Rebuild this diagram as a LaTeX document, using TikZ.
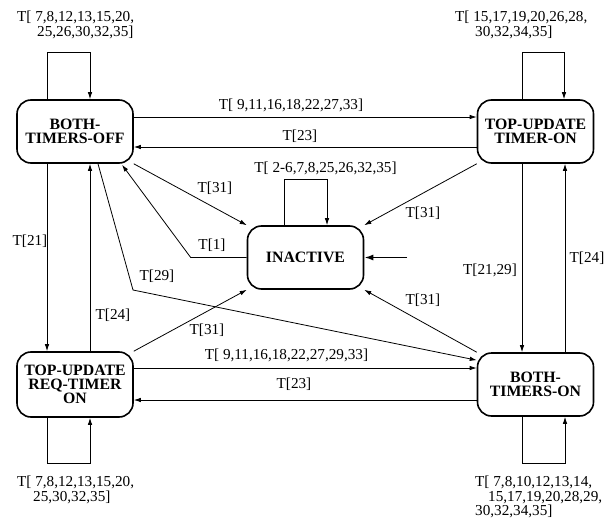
\documentclass[tikz,border=0pt]{standalone}
\usepackage{fontspec}
\setmainfont{Liberation Serif}
\usetikzlibrary{arrows.meta,calc}
\begin{document}
\begin{tikzpicture}[x=1pt,y=-1pt,
  state/.style={draw,line width=1.6pt,rounded corners=14pt,minimum width=116pt,minimum height=63pt,inner sep=0pt,align=center,font=\fontsize{15.8}{14.3}\selectfont\bfseries},
  lbl/.style={font=\fontsize{15.2}{14.3}\selectfont,inner sep=0pt,align=left},
  arr/.style={line width=0.8pt,-{Latex[length=7pt,width=4.5pt]}},
  initarr/.style={line width=1.6pt,-{Latex[length=9pt,width=6pt]}}]
\useasboundingbox (0,0) rectangle (605,519);

\node[state] (BTO) at (75,131.5) {BOTH-\\TIMERS-OFF};
\node[state] (TUTO) at (535.5,131.5) {TOP-UPDATE\\TIMER-ON};
\node[state] (INACT) at (305.5,257.5) {INACTIVE};
\node[state,minimum height=65pt] (TUREQ) at (75,384.5) {TOP-UPDATE\\REQ-TIMER\\ON};
\node[state] (BTON) at (535.5,384.5) {BOTH-\\TIMERS-ON};

% self loops
\draw[arr] ([xshift=-28pt]BTO.north) -- ++(0pt,47pt) -| ([xshift=15pt]BTO.north);
\draw[arr] ([xshift=-13.5pt]TUTO.north) -- ++(0pt,47pt) -| ([xshift=28.5pt]TUTO.north);
\draw[arr] ([xshift=-21.5pt]INACT.north) -- ++(0pt,46pt) -| ([xshift=21.5pt]INACT.north);
\draw[arr] ([xshift=-28pt]TUREQ.south) -- ++(0pt,-46pt) -| ([xshift=15pt]TUREQ.south);
\draw[arr] ([xshift=-13.5pt]BTON.south) -- ++(0pt,-47pt) -| ([xshift=29.5pt]BTON.south);

% horizontal connectors
\draw[arr] ([yshift=14.5pt]BTO.east) -- ([yshift=14.5pt]TUTO.west);
\draw[arr] ([yshift=-15.5pt]TUTO.west) -- ([yshift=-15.5pt]BTO.east);
\draw[arr] ([yshift=16.5pt]TUREQ.east) -- ([yshift=16.5pt]BTON.west);
\draw[arr] ([yshift=-15.5pt]BTON.west) -- ([yshift=-15.5pt]TUREQ.east);

% vertical connectors
\draw[arr] ([xshift=-28pt]BTO.south) -- ([xshift=-28pt]TUREQ.north);
\draw[arr] ([xshift=15pt]TUREQ.north) -- ([xshift=15pt]BTO.south);
\draw[arr] ([xshift=-13.5pt]TUTO.south) -- ([xshift=-13.5pt]BTON.north);
\draw[arr] ([xshift=29.5pt]BTON.north) -- ([xshift=29.5pt]TUTO.south);

% diagonals
\draw[arr] (BTO.south east) -- (INACT.north west);
\draw[arr] (INACT.west) -- ++(-56pt,0pt) -- ([xshift=47pt,yshift=-1pt]BTO.south);
\coordinate (b29) at (133,290);
\draw[arr] ([xshift=23pt]BTO.south) -- (b29) -- ([yshift=-8pt]BTON.north west);
\draw[arr] (TUTO.south west) -- (INACT.north east);
\draw[arr] (BTON.north west) -- (INACT.south east);
\draw[arr] (TUREQ.north east) -- (INACT.south west);

% initial arrow
\coordinate (init) at (407,257.5);
\draw[initarr] (init) -- (INACT.east);

% loop labels
\node[lbl,anchor=north west] at (17,11) {T[ 7,8,12,13,15,20,\\\hspace*{20pt}25,26,30,32,35]};
\node[lbl,anchor=north west] at (455,11) {T[ 15,17,19,20,26,28,\\\hspace*{20pt}30,32,34,35]};
\node[lbl,anchor=base] at (325.5,172) {T[ 2-6,7,8,25,26,32,35]};
\node[lbl,anchor=north west] at (17,476) {T[ 7,8,12,13,15,20,\\\hspace*{16pt}25,30,32,35]};
\node[lbl,anchor=north west] at (475,476) {T[ 7,8,10,12,13,14,\\\hspace*{13pt}15,17,19,20,28,29,\\30,32,34,35]};

% connector labels
\node[lbl] at (291,105) {T[ 9,11,16,18,22,27,33]};
\node[lbl] at (300,136) {T[23]};
\node[lbl] at (215,188) {T[31]};
\node[lbl] at (212,245) {T[1]};
\node[lbl] at (157,276) {T[29]};
\node[lbl] at (30,241) {T[21]};
\node[lbl] at (113,315) {T[24]};
\node[lbl] at (207,330) {T[31]};
\node[lbl] at (286.5,355.5) {T[ 9,11,16,18,22,27,29,33]};
\node[lbl] at (294,384) {T[23]};
\node[lbl] at (423,300) {T[31]};
\node[lbl] at (490,270) {T[21,29]};
\node[lbl] at (587,258) {T[24]};
\node[lbl] at (423,213) {T[31]};
\end{tikzpicture}
\end{document}
